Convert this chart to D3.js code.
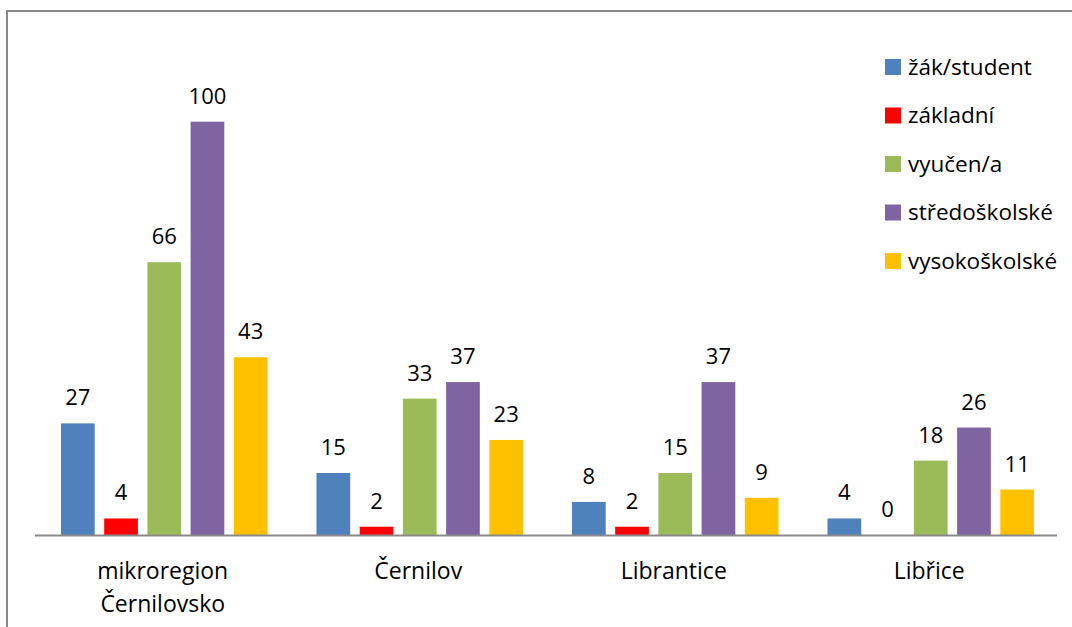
<!DOCTYPE html>
<html>
<head>
<meta charset="utf-8">
<script src="https://cdn.jsdelivr.net/npm/d3@7"></script>
<style>
  body { margin: 0; background: #fff; }
  text { font-family: "Open Sans", Lato, sans-serif; fill: #000; }
  .value { font-size: 22px; }
  .cat { font-size: 23px; }
  .legend { font-size: 22.5px; }
</style>
</head>
<body>
<div id="chart"></div>
<script>
const width = 1072;
const height = 627;

// data
const categories = [["mikroregion", "Černilovsko"], ["Černilov"], ["Librantice"], ["Libřice"]];
const seriesNames = ["žák/student", "základní", "vyučen/a", "středoškolské", "vysokoškolské"];
const seriesColors = ["#4F81BD", "#FF0000", "#9BBB59", "#8064A2", "#FFC000"];
const student      = [27, 15, 8, 4];
const zakladni     = [4, 2, 2, 0];
const vyucen       = [66, 33, 15, 18];
const stredoskol   = [100, 37, 37, 26];
const vysokoskol   = [43, 23, 9, 11];
const seriesValues = [student, zakladni, vyucen, stredoskol, vysokoskol];

const margin = { top: 39, right: 15, bottom: 92, left: 35 };

const svg = d3.select("#chart").append("svg")
   .attr("width", width)
   .attr("height", height);

// chart border
svg.append("rect")
   .attr("x", 7).attr("y", 11)
   .attr("width", width + 20).attr("height", height + 20)
   .style("fill", "none")
   .style("stroke", "#898989")
   .style("stroke-width", 2);

const x0 = d3.scaleBand()
   .domain(d3.range(categories.length))
   .range([margin.left, width - margin.right])
   .paddingInner(0)
   .paddingOuter(0);

const x1 = d3.scaleBand()
   .domain(d3.range(seriesNames.length))
   .range([26, x0.bandwidth() - 23])
   .paddingInner(0.22);

const y = d3.scaleLinear()
   .domain([0, 120])
   .range([height - margin.bottom, margin.top]);

const groups = svg.selectAll("g.group")
   .data(categories)
   .enter()
   .append("g")
   .attr("class", "group")
   .attr("transform", (d, i) => `translate(${x0(i)},0)`);

groups.each(function(c, ci) {
   const g = d3.select(this);
   const vals = seriesValues.map((s, si) => ({ si: si, value: s[ci] }));
   g.selectAll("rect")
      .data(vals)
      .enter()
      .append("rect")
      .attr("x", d => x1(d.si))
      .attr("y", d => y(d.value))
      .attr("width", x1.bandwidth())
      .attr("height", d => y(0) - y(d.value))
      .style("fill", d => seriesColors[d.si]);
   g.selectAll("text.value")
      .data(vals)
      .enter()
      .append("text")
      .attr("class", "value")
      .attr("x", d => x1(d.si) + x1.bandwidth() / 2)
      .attr("y", d => y(d.value) - 18)
      .style("text-anchor", "middle")
      .text(d => d.value);
   const lab = g.append("text")
      .attr("class", "cat")
      .attr("x", x0.bandwidth() / 2)
      .attr("y", y(0) + 44)
      .style("text-anchor", "middle");
   lab.selectAll("tspan")
      .data(c)
      .enter()
      .append("tspan")
      .attr("x", x0.bandwidth() / 2)
      .attr("dy", (d, i) => i === 0 ? 0 : 33)
      .text(d => d);
});

// x axis line
svg.append("line")
   .attr("x1", margin.left).attr("x2", width - margin.right)
   .attr("y1", y(0) + 0.5).attr("y2", y(0) + 0.5)
   .style("stroke", "#898989")
   .style("stroke-width", 2);

// legend
const legend_top = 59;
const legend_step = 48.5;
const legend = svg.selectAll("g.legend")
   .data(seriesNames)
   .enter()
   .append("g")
   .attr("class", "legend")
   .attr("transform", (d, i) => `translate(885,${legend_top + i * legend_step})`);
legend.append("rect")
   .attr("width", 16).attr("height", 16)
   .style("fill", (d, i) => seriesColors[i]);
legend.append("text")
   .attr("class", "legend")
   .attr("x", 23)
   .attr("y", 8)
   .attr("dy", "0.35em")
   .text(d => d);
</script>
</body>
</html>
